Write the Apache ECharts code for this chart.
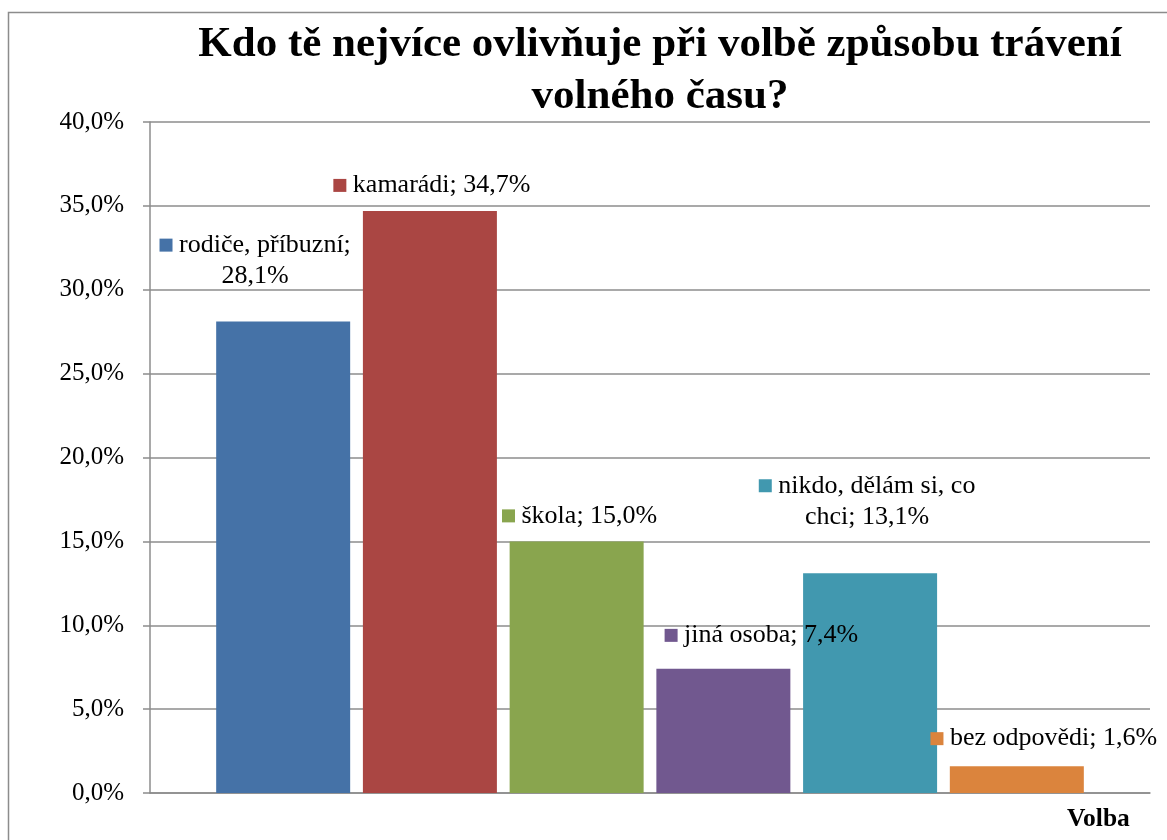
<!DOCTYPE html>
<html>
<head>
<meta charset="utf-8">
<script src="https://cdn.jsdelivr.net/npm/echarts@6/dist/echarts.min.js"></script>
<style>
  html, body { margin: 0; padding: 0; background: #fff; }
  #chart { width: 1167px; height: 840px; }
</style>
</head>
<body>
<div id="chart"></div>
<script>
  // data
  var category = ['Volba'];
  var seriesNames = ['rodiče, příbuzní', 'kamarádi', 'škola', 'jiná osoba', 'nikdo, dělám si, co chci', 'bez odpovědi'];
  var seriesValues = [28.1, 34.7, 15.0, 7.4, 13.1, 1.6];
  var yTicks = { min: 0, max: 40, interval: 5 };

  var colors = ['#4572A7', '#AA4643', '#89A54E', '#71588F', '#4198AF', '#DB843D'];
  // label text as broken in the original (line breaks)
  var labelLines = [
    ['rodiče, příbuzní;', '28,1%'],
    ['kamarádi; 34,7%'],
    ['škola; 15,0%'],
    ['jiná osoba; 7,4%'],
    ['nikdo, dělám si, co', 'chci; 13,1%'],
    ['bez odpovědi; 1,6%']
  ];
  // manual label shifts (the labels were dragged in the original)
  var labelOffsets = [[-28, -25], [2, -5], [3, -5], [38, -13], [-3, -36], [27, -7]];

  var serif = "'Liberation Serif', 'Times New Roman', serif";

  function pct(v) {
    return v.toFixed(1).replace('.', ',') + '%';
  }

  var series = seriesNames.map(function (name, i) {
    var lines = labelLines[i];
    var txt = '{sq|} ' + lines[0] + (lines.length > 1 ? '\n' + lines[1] : '');
    return {
      name: name,
      type: 'bar',
      data: [seriesValues[i]],
      barWidth: 134,
      barGap: '9.5%',
      itemStyle: { color: colors[i] },
      label: {
        show: true,
        position: 'top',
        distance: 5,
        offset: labelOffsets[i],
        formatter: function () { return txt; },
        color: '#000',
        fontFamily: serif,
        fontSize: 26,
        lineHeight: 31,
        align: 'center',
        rich: {
          sq: { width: 13, height: 13, backgroundColor: colors[i] }
        }
      },
      animation: false
    };
  });

  var chart = echarts.init(document.getElementById('chart'));
  chart.setOption({
    animation: false,
    title: [{
      text: 'Kdo tě nejvíce ovlivňuje při volbě způsobu trávení\nvolného času?',
      left: 660,
      top: 19,
      textAlign: 'center',
      padding: 0,
      textStyle: { fontFamily: serif, fontWeight: 'bold', fontSize: 43, lineHeight: 52, color: '#000' }
    }, {
      text: 'Volba',
      left: 1067,
      top: 806,
      padding: 0,
      textStyle: { fontFamily: serif, fontWeight: 'bold', fontSize: 25.5, color: '#000' }
    }],
    graphic: [{
      type: 'rect',
      shape: { x: 8.5, y: 12.5, width: 1300, height: 1000 },
      style: { fill: 'none', stroke: '#8c8c8c', lineWidth: 1.5 },
      silent: true
    }],
    grid: { left: 150, right: 17, top: 122, bottom: 47 },
    xAxis: {
      type: 'category',
      data: category,
      axisLine: { lineStyle: { color: '#8c8c8c', width: 1.5 } },
      axisTick: { show: false },
      axisLabel: { show: false }
    },
    yAxis: {
      type: 'value',
      min: yTicks.min,
      max: yTicks.max,
      interval: yTicks.interval,
      axisLine: { show: true, lineStyle: { color: '#8c8c8c', width: 1.5 } },
      axisTick: { show: true, inside: false, length: 7, lineStyle: { color: '#8c8c8c', width: 1.5 } },
      splitLine: { lineStyle: { color: '#8c8c8c', width: 1.5 } },
      axisLabel: {
        margin: 26,
        color: '#000',
        fontFamily: serif,
        fontSize: 25,
        formatter: pct
      }
    },
    series: series
  });
</script>
</body>
</html>
